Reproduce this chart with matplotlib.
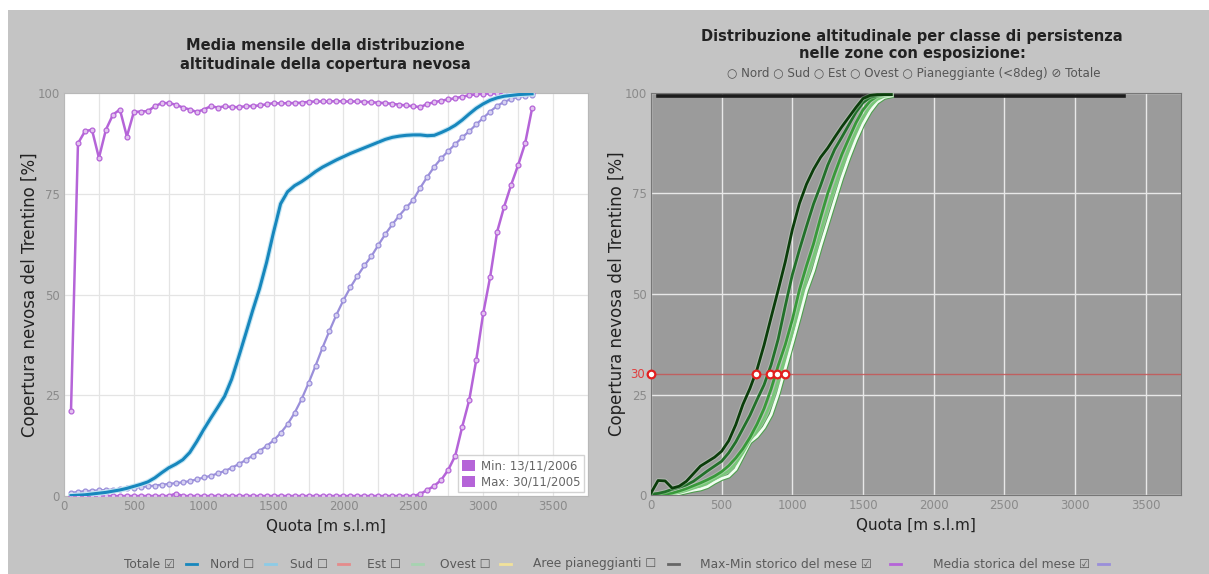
import matplotlib
matplotlib.use("Agg")
import matplotlib.pyplot as plt
import matplotlib.patheffects as pe
from matplotlib.patches import Patch, Rectangle
from matplotlib.lines import Line2D

# ---------------- data: left panel (50 m steps, 50..3350 m) ----------------
quota = list(range(50, 3351, 50))

media_mese = [0.1, 0.2, 0.3, 0.5, 0.7, 0.9, 1.2, 1.5, 1.9, 2.4,
              2.9, 3.5, 4.5, 5.8, 7, 7.9, 9, 10.8, 13.5, 16.5,
              19.3, 22, 24.8, 29, 34.5, 40.2, 46, 51.5, 58, 65.5,
              72.5, 75.5, 77, 78, 79.2, 80.5, 81.6, 82.5, 83.4, 84.2,
              85, 85.7, 86.4, 87.1, 87.8, 88.5, 89, 89.3, 89.5, 89.6,
              89.6, 89.4, 89.5, 90.2, 91, 92, 93.3, 94.8, 96.2, 97.3,
              98.2, 98.8, 99.2, 99.4, 99.6, 99.7, 99.8]

media_storica = [0.8, 1, 1.2, 1.3, 1.4, 1.5, 1.6, 1.8, 1.9, 2.1,
                 2.2, 2.4, 2.6, 2.8, 3, 3.2, 3.4, 3.7, 4.1, 4.6,
                 5, 5.6, 6.2, 7, 7.9, 8.9, 10, 11.2, 12.4, 13.8,
                 15.6, 17.8, 20.6, 24, 28, 32.3, 36.8, 41, 45, 48.6,
                 51.8, 54.6, 57.2, 59.5, 62.3, 65, 67.4, 69.6, 71.6, 73.5,
                 76.5, 79.2, 81.7, 83.8, 85.6, 87.3, 89, 90.5, 92.2, 93.8,
                 95.4, 96.8, 97.8, 98.5, 99, 99.3, 99.6]

max_storico = [21, 87.5, 90.5, 90.9, 83.9, 90.9, 94.6, 95.9, 89.2, 95.3,
               95.4, 95.5, 96.7, 97.5, 97.5, 97.1, 96.4, 95.9, 95.3, 95.9,
               96.7, 96.4, 96.7, 96.5, 96.5, 96.7, 96.8, 96.9, 97.2, 97.5,
               97.4, 97.5, 97.5, 97.6, 97.8, 97.9, 97.9, 97.9, 98, 97.9,
               97.9, 97.9, 97.8, 97.7, 97.6, 97.5, 97.3, 97.1, 96.9, 96.7,
               96.5, 97.3, 97.7, 98.1, 98.4, 98.7, 99.1, 99.4, 99.7, 99.8,
               99.9, 100, 100, 100, 100, 100, 100]

min_storico = [0, 0, 0, 0, 0, 0, 0, 0, 0, 0,
               0, 0, 0, 0, 0, 0.6, 0, 0, 0, 0,
               0, 0, 0, 0, 0, 0, 0, 0, 0, 0,
               0, 0, 0, 0, 0, 0, 0, 0, 0, 0,
               0, 0, 0, 0, 0, 0, 0, 0, 0, 0,
               0.5, 1.5, 2.5, 4, 6.5, 10, 17.2, 23.8, 33.7, 45.3,
               54.4, 65.6, 71.8, 77.2, 82.1, 87.5, 96.2]

legend_min = "Min: 13/11/2006"
legend_max = "Max: 30/11/2005"

# ---------------- data: right panel (50 m steps, 0..1700 m) ----------------
quota_cls = list(range(0, 1701, 50))
classe_1 = [0.5, 3.6, 3.5, 1.7, 2.2, 3.4, 5.3, 7.2, 8.3, 9.4,
            10.9, 13.5, 17.5, 22.5, 26.5, 31.2, 37.3, 44.2, 51, 58,
            66, 72.5, 77.3, 81, 84, 86.3, 89, 91.6, 94, 96.4,
            98.6, 99.4, 99.6, 99.6, 99.6]
classe_2 = [0.2, 0.4, 0.8, 1.4, 1.9, 2.5, 3.4, 4.7, 6, 7.2,
            8.4, 10.5, 13.2, 16.5, 19.8, 23.7, 27.4, 32.4, 38.8, 47,
            54.8, 61, 66.8, 72.4, 77, 82, 86, 89, 92.1, 95.2,
            97.6, 98.9, 99.4, 99.6, 99.6]
classe_3 = [0, 0.1, 0.2, 0.5, 1, 1.6, 2.3, 3, 3.8, 4.7,
            5.8, 7.3, 9.2, 11.5, 14.3, 17.6, 21.5, 26.4, 32.2, 37.4,
            43.6, 51, 57, 62.5, 69, 75, 80, 84.7, 88.7, 92.6,
            95.8, 98, 99.2, 99.5, 99.6]
classe_4 = [0, 0, 0.1, 0.3, 0.6, 1.1, 1.7, 2.3, 3, 4,
            5, 6, 7.8, 10.5, 13.6, 16, 19, 23, 28.5, 34.5,
            40.5, 47.5, 54, 59.2, 65.5, 71.3, 76.7, 81.8, 86.3, 90.5,
            94, 96.7, 98.4, 99.2, 99.4]
classe_5 = [0, 0, 0, 0, 0.4, 0.8, 1.2, 1.5, 2.1, 3.2,
            4.1, 4.7, 6.4, 9.8, 13.2, 14.6, 16.8, 20, 25.2, 31.5,
            37.8, 44.2, 50.9, 55.8, 61.9, 67.6, 73.3, 78.9, 83.9, 88.4,
            92.3, 95.4, 97.7, 98.9, 99.3]
classi = [classe_1, classe_2, classe_3, classe_4, classe_5]
colori_classi = ["#0b3d0b", "#22702a", "#38993a", "#78c878", "#f2fff2"]

totale_quota = [50, 3350]
totale_val = [99.3, 99.3]

soglia = 30
quota_soglia = [0, 740, 840, 890, 946]

# ---------------- styling ----------------
BG = "#c4c4c4"
fig = plt.figure(figsize=(12.09, 5.74), dpi=100, facecolor="white")
fig.patches.append(Rectangle((0.007, 0), 0.993, 0.983, transform=fig.transFigure,
                             facecolor=BG, edgecolor="none", zorder=-10))

MAG = "#b564d8"
LAV = "#9a8fda"
BLUE = "#1787bd"
TICKC = "#8a8a8a"

# ---------------- left panel ----------------
axL = fig.add_axes([64 / 1209, 78 / 574, 524 / 1209, 403 / 574])
axL.set_facecolor("white")
axL.set_xlim(0, 3750)
axL.set_ylim(0, 100)
axL.set_xticks(range(0, 3501, 500))
axL.set_xticks(range(0, 3751, 250), minor=True)
axL.set_yticks([0, 25, 50, 75, 100])
axL.grid(True, which="both", axis="x", color="#e4e4e4", lw=0.9)
axL.grid(True, axis="y", color="#e4e4e4", lw=0.9)
axL.set_axisbelow(True)
axL.tick_params(which="both", length=0, labelsize=8.5, labelcolor=TICKC, pad=3)
for s in axL.spines.values():
    s.set_color("#b8b8b8")
    s.set_linewidth(0.8)

axL.plot(quota, min_storico, color=MAG, lw=1.8, marker="o", ms=3.5, mfc="#e3c4ef",
         mec=MAG, mew=0.9, zorder=3)
axL.plot(quota, max_storico, color=MAG, lw=1.8, marker="o", ms=3.5, mfc="#e3c4ef",
         mec=MAG, mew=0.9, zorder=3)
axL.plot(quota, media_storica, color=LAV, lw=1.6, marker="o", ms=3.5, mfc="#d8d3f2",
         mec=LAV, mew=0.9, zorder=4)
axL.plot(quota, media_mese, color=BLUE, lw=2.2, zorder=5,
         path_effects=[pe.Stroke(linewidth=3.8, foreground="#c6e6f3"), pe.Normal()])

leg = axL.legend(handles=[Patch(facecolor=MAG, edgecolor="none", label=legend_min),
                          Patch(facecolor=MAG, edgecolor="none", label=legend_max)],
                 loc="lower right", fontsize=8.5, frameon=True, fancybox=False,
                 framealpha=0.85, edgecolor="#cccccc", handlelength=1.1, handleheight=1.1,
                 handletextpad=0.5, borderpad=0.35, labelspacing=0.25,
                 borderaxespad=0.3)
for t in leg.get_texts():
    t.set_color("#666666")

axL.set_xlabel("Quota [m s.l.m]", fontsize=11, color="#222222", labelpad=4)
axL.set_ylabel("Copertura nevosa del Trentino [%]", fontsize=12, color="#222222",
               labelpad=-1)
fig.text(325 / 1209, 1 - 55 / 574,
         "Media mensile della distribuzione\naltitudinale della copertura nevosa",
         ha="center", va="center", fontsize=10.5, fontweight="bold", color="#222222",
         linespacing=1.25)

# ---------------- right panel ----------------
axR = fig.add_axes([651 / 1209, 79 / 574, 530 / 1209, 402 / 574])
axR.set_facecolor("#9b9b9b")
axR.set_xlim(0, 3750)
axR.set_ylim(0, 100)
axR.set_xticks(range(0, 3501, 500))
axR.set_yticks([0, 25, 50, 75, 100])
axR.grid(True, color="#e8e8e8", lw=1.0)
axR.set_axisbelow(True)
axR.tick_params(length=0, labelsize=8.5, labelcolor=TICKC, pad=3)
for s in axR.spines.values():
    s.set_color("#777777")
    s.set_linewidth(0.8)

axR.plot(totale_quota, totale_val, color="#1c1c1c", lw=2.6, zorder=3)
for i, (vals, col) in enumerate(zip(classi[::-1], colori_classi[::-1])):
    if col == "#f2fff2":
        eff = [pe.Stroke(linewidth=3.6, foreground="#4f9f4f"), pe.Normal()]
    else:
        eff = [pe.Stroke(linewidth=3.4, foreground="#d8ecd8", alpha=0.35), pe.Normal()]
    axR.plot(quota_cls, vals, color=col, lw=2.0, zorder=4 + i, path_effects=eff)

axR.axhline(soglia, color="#c45a5a", lw=1.0, alpha=0.9, zorder=10)
axR.plot(quota_soglia, [soglia] * len(quota_soglia), ls="none", marker="o", ms=5.5,
         mfc="white", mec="#e21f1f", mew=1.6, zorder=11, clip_on=False)
axR.text(-40, soglia, str(soglia), color="#e04040", fontsize=8.5, ha="right",
         va="center", transform=axR.transData)

axR.set_xlabel("Quota [m s.l.m]", fontsize=11, color="#222222", labelpad=4)
axR.set_ylabel("Copertura nevosa del Trentino [%]", fontsize=12, color="#222222",
               labelpad=-1)
fig.text(912 / 1209, 1 - 45 / 574,
         "Distribuzione altitudinale per classe di persistenza\nnelle zone con esposizione:",
         ha="center", va="center", fontsize=10.5, fontweight="bold", color="#222222",
         linespacing=1.2)
fig.text(914 / 1209, 1 - 73 / 574,
         "\u25cb Nord \u25cb Sud \u25cb Est \u25cb Ovest \u25cb Pianeggiante (<8deg) \u2298 Totale",
         ha="center", va="center", fontsize=8.6, color="#555555")

# ---------------- bottom legend ----------------
items = [("Totale \u2611", 124, 186, BLUE),
         ("Nord \u2610", 210, 265, "#8ccbe6"),
         ("Sud \u2610", 290, 338, "#e58b8b"),
         ("Est \u2610", 367, 412, "#a6d3b0"),
         ("Ovest \u2610", 440, 500, "#f2e29a"),
         ("Aree pianeggianti \u2610", 533, 668, "#666666"),
         ("Max-Min storico del mese \u2611", 700, 890, MAG),
         ("Media storica del mese \u2611", 933, 1098, LAV)]
yb = 1 - 564 / 574
for label, xt, xl, col in items:
    fig.text(xt / 1209, yb, label, ha="left", va="center", fontsize=8.8,
             color="#5a5a5a")
    fig.add_artist(Line2D([xl / 1209, (xl + 11) / 1209], [yb, yb], color=col, lw=2,
                          transform=fig.transFigure))

fig.savefig("out.png", dpi=100, facecolor=fig.get_facecolor())
